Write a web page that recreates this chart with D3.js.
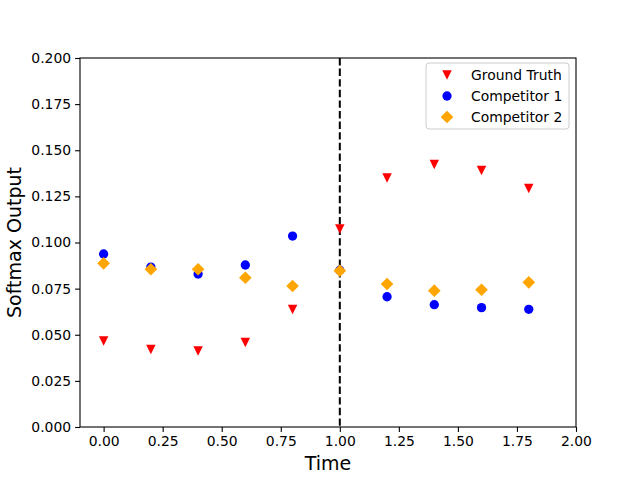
<!DOCTYPE html>
<html>
<head>
<meta charset="utf-8">
<script src="https://cdn.jsdelivr.net/npm/d3@7"></script>
<style>
  body { margin: 0; background: #fff; }
  text { font-family: "DejaVu Sans", sans-serif; }
</style>
</head>
<body>
<svg id="chart" width="640" height="480"></svg>
<script>
const times = [0.0, 0.2, 0.4, 0.6, 0.8, 1.0, 1.2, 1.4, 1.6, 1.8];
const groundTruth = [0.0466, 0.0420, 0.0412, 0.0458, 0.0637, 0.1073, 0.1350, 0.1423, 0.1390, 0.1293];
const competitor1 = [0.0938, 0.0867, 0.0829, 0.0878, 0.1035, 0.0850, 0.0706, 0.0663, 0.0647, 0.0638];
const competitor2 = [0.0887, 0.0855, 0.0855, 0.0809, 0.0764, 0.0847, 0.0775, 0.0739, 0.0744, 0.0784];
const xTicks = [0, 0.25, 0.5, 0.75, 1.0, 1.25, 1.5, 1.75, 2.0];
const yTicks = [0, 0.025, 0.05, 0.075, 0.1, 0.125, 0.15, 0.175, 0.2];
const splitTime = 1.0;

// matplotlib 'v' marker: wide as it is tall
const triangleDown = {
  draw(ctx, size) {
    const r = Math.sqrt(size) / 2;
    ctx.moveTo(0, r);
    ctx.lineTo(-r, -r);
    ctx.lineTo(r, -r);
    ctx.closePath();
  }
};

const series = [
  {name: 'Ground Truth', values: groundTruth, color: '#ff0000', type: triangleDown, size: 90, rotate: 0},
  {name: 'Competitor 1', values: competitor1, color: '#0000ff', type: d3.symbolCircle, size: 68, rotate: 0},
  {name: 'Competitor 2', values: competitor2, color: '#ffa500', type: d3.symbolSquare, size: 80, rotate: 45}
];

const margin = {left: 80, right: 64, top: 58, bottom: 53};
const width = 640 - margin.left - margin.right;
const height = 480 - margin.top - margin.bottom;

const svg = d3.select('#chart');
const g = svg.append('g').attr('transform', `translate(${margin.left},${margin.top})`);

const x = d3.scaleLinear().domain([-0.1, 2.0]).range([0, width]);
const y = d3.scaleLinear().domain([0, 0.2]).range([height, 0]);

const xAxis = g.append('g')
  .attr('transform', `translate(0,${height})`)
  .call(d3.axisBottom(x).tickValues(xTicks).tickFormat(d3.format('.2f')).tickSize(4.9).tickPadding(4));
const yAxis = g.append('g')
  .call(d3.axisLeft(y).tickValues(yTicks).tickFormat(d3.format('.3f')).tickSize(4.9).tickPadding(4));

[xAxis, yAxis].forEach(a => {
  a.select('.domain').remove();
  a.selectAll('line').attr('stroke', '#000').attr('stroke-width', 1.1);
  a.selectAll('text').attr('font-size', '13.9px').attr('fill', '#000')
    .attr('font-family', '"DejaVu Sans", sans-serif');
});

g.append('rect')
  .attr('width', width).attr('height', height)
  .attr('fill', 'none').attr('stroke', '#000').attr('stroke-width', 1.1);

g.append('line')
  .attr('x1', x(splitTime)).attr('x2', x(splitTime))
  .attr('y1', 0).attr('y2', height)
  .attr('stroke', '#000').attr('stroke-width', 2)
  .attr('stroke-dasharray', '7.4,3.2');

series.forEach(s => {
  const sym = d3.symbol().type(s.type).size(s.size);
  g.append('g').selectAll('path')
    .data(times.map((t, i) => [t, s.values[i]]))
    .join('path')
    .attr('d', sym)
    .attr('fill', s.color)
    .attr('transform', d => `translate(${x(d[0])},${y(d[1])}) rotate(${s.rotate})`);
});

svg.append('text')
  .attr('x', margin.left + width / 2).attr('y', 470)
  .attr('text-anchor', 'middle').attr('font-size', '19px')
  .text('Time');

svg.append('text')
  .attr('transform', `translate(21,${margin.top + height / 2}) rotate(-90)`)
  .attr('text-anchor', 'middle').attr('font-size', '19px')
  .text('Softmax Output');

// legend
const legend = svg.append('g').attr('transform', 'translate(426,63)');
legend.append('rect')
  .attr('width', 143).attr('height', 66).attr('rx', 3)
  .attr('fill', '#fff').attr('fill-opacity', 0.8)
  .attr('stroke', '#cccccc').attr('stroke-width', 1);

series.forEach((s, i) => {
  const row = legend.append('g').attr('transform', `translate(21,${12 + i * 21})`);
  row.append('path')
    .attr('d', d3.symbol().type(s.type).size(s.size))
    .attr('fill', s.color)
    .attr('transform', `rotate(${s.rotate})`);
  row.append('text')
    .attr('x', 24).attr('y', 5)
    .attr('font-size', '13.9px')
    .text(s.name);
});
</script>
</body>
</html>
